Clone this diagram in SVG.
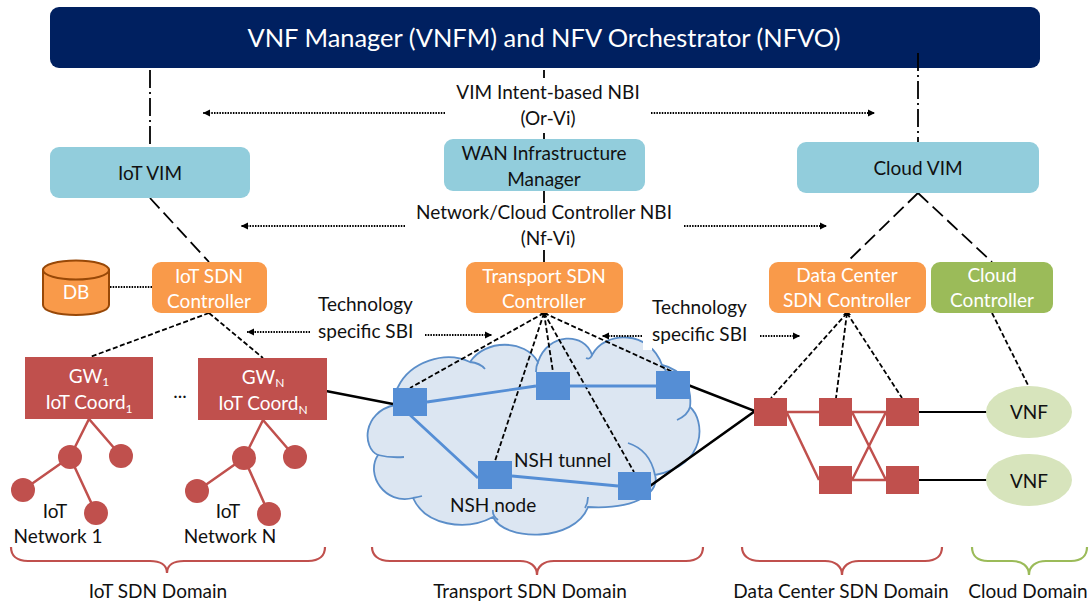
<svg xmlns="http://www.w3.org/2000/svg" width="1092" height="603" viewBox="0 0 1092 603">
<style>
text{font-family:"Lato","Carlito","Open Sans",sans-serif;font-size:19px;fill:#111;text-anchor:middle}
.w{fill:#fff}
.s{text-anchor:start}
.vim{fill:#92cddc}
.org{fill:#f99a4a}
.red{fill:#c0504d}
.blu{fill:#558ed5}
.tree{stroke:#c0504d;stroke-width:2.5;fill:none}
.bl{stroke:#558ed5;stroke-width:2.8;fill:none}
.k{stroke:#000;stroke-width:2.5;fill:none}
.kt{stroke:#000;stroke-width:1.8;fill:none}
.dd{stroke:#000;stroke-width:1.8;fill:none;stroke-dasharray:18 4 2 4}
.da{stroke:#000;stroke-width:1.8;fill:none;stroke-dasharray:14 6}
.ds{stroke:#000;stroke-width:1.8;fill:none;stroke-dasharray:5 2.5}
.dt{stroke:#000;stroke-width:1.8;fill:none;stroke-dasharray:1.5 1.2}
.br{fill:none;stroke-width:2.2}
.sb{font-size:12px}
</style>
<defs>
<marker id="ah" markerUnits="userSpaceOnUse" markerWidth="8" markerHeight="8" refX="7" refY="4" orient="auto"><path d="M0,0.5L7,4L0,7.5z" fill="#000"/></marker>
</defs>

<g id="cloud">
<path d="M378,455C362,448 362,412 395,405C392,395 398,387 398,387C410,362 445,350 470,362C485,339 525,339 538,362C548,332 585,332 592,355C605,330 650,330 662,365C685,370 692,390 690,407C705,420 708,465 655,475C660,490 640,510 588,507C575,542 505,542 493,517C465,532 425,525 413,498C385,505 365,475 378,455Z" fill="#dce6f2" stroke="#5b8ec9" stroke-width="1.8"/>
<path d="M470,362Q480,363 485,369M538,362Q536,366 536,372M592,355Q590,360 586,358M662,365Q664,368 666,371M690,407Q688,415 677,420M628,443Q650,450 655,475M588,497Q588,503 585,508M493,510Q492,515 498,520M413,498Q418,497 422,496M378,455Q390,458 404,457" fill="none" stroke="#5b8ec9" stroke-width="1.8"/>
<rect x="643" y="341" width="9" height="9" fill="#fff"/>
</g>

<g id="connectors">
<path class="dd" d="M150,70V147M544,70V78M544,133V139M544,191V203M544,250V262M918,53V142"/>
<path class="da" d="M150,198L209,262M918,193L847,262M918,193L992,262"/>
<path class="ds" d="M209,313L90,357M209,313L263,358M544,313L410,388M544,313L495,461M544,313L553,372M544,313L634,472M544,313L673,372M847,313L771,398M847,313L836,398M847,313L902,398M992,313L1029,387"/>
<path d="M544,310l4,4h-8zM847,310l4,5h-8z"/>
<path class="dt" d="M110,287H152"/>
<path class="dt" d="M445,113H203" marker-end="url(#ah)"/>
<path class="dt" d="M651,113H875" marker-end="url(#ah)"/>
<path class="dt" d="M405,226H241" marker-end="url(#ah)"/>
<path class="dt" d="M684,226H827" marker-end="url(#ah)"/>
<path class="dt" d="M310,332H247" marker-end="url(#ah)"/>
<path class="dt" d="M425,335H492" marker-end="url(#ah)"/>
<path class="dt" d="M642,336H602" marker-end="url(#ah)"/>
<path class="dt" d="M760,336H800" marker-end="url(#ah)"/>
<path class="bl" d="M427,402L536,386M570,386H656M410,415L478,478M512,476L618,486"/>
<path class="k" d="M326,391L393,404M688,385L755,411L650,486"/>
<path class="kt" d="M919,412H987M919,480H987"/>
<path class="tree" d="M787,412H886M787,413L819,480M852,412L886,480M852,480L886,412M852,480H886"/>
<path class="tree" d="M70,457L89,419L121,456M70,457L23,490M70,457L96,513M244,458L263,420L295,457M244,458L197,491M244,458L269,514"/>
</g>

<g id="orchestrator"><rect x="50" y="7" width="990" height="61" rx="9" fill="#002060"/><text class="w" x="544" y="47" style="font-size:25px" textLength="593" lengthAdjust="spacingAndGlyphs">VNF Manager (VNFM) and NFV Orchestrator (NFVO)</text></g>
<path d="M918,53V68" class="dd"/>
<g id="iot-vim"><rect class="vim" x="50" y="147" width="200" height="51" rx="9"/><text x="150" y="180">IoT VIM</text></g>
<g id="wan"><rect class="vim" x="444" y="139" width="201" height="52" rx="9"/><text x="544" y="160">WAN Infrastructure</text><text x="544" y="186">Manager</text></g>
<g id="cloud-vim"><rect class="vim" x="797" y="142" width="242" height="51" rx="9"/><text x="918" y="175">Cloud VIM</text></g>
<g id="db"><path d="M43,270V305C43,311 58,315 76,315S109,311 109,305V270Z" class="org" stroke="#984807" stroke-width="2"/><ellipse cx="76" cy="270" rx="33" ry="9.5" class="org" stroke="#984807" stroke-width="2"/><text class="w" x="76" y="299">DB</text></g>
<g id="iot-ctl"><rect class="org" x="152" y="262" width="115" height="51" rx="9"/><text class="w" x="209" y="283">IoT SDN</text><text class="w" x="209" y="308">Controller</text></g>
<g id="transport-ctl"><rect class="org" x="466" y="262" width="157" height="51" rx="9"/><text class="w" x="544" y="283">Transport SDN</text><text class="w" x="544" y="308">Controller</text></g>
<g id="dc-ctl"><rect class="org" x="769" y="262" width="157" height="51" rx="9"/><text class="w" x="847" y="282">Data Center</text><text class="w" x="847" y="307">SDN Controller</text></g>
<g id="cloud-ctl"><rect x="931" y="262" width="122" height="51" rx="9" fill="#9bbb59"/><text class="w" x="992" y="282">Cloud</text><text class="w" x="992" y="307">Controller</text></g>
<g id="gw1"><rect class="red" x="25" y="357" width="128" height="62"/><text class="w" x="89" y="383">GW<tspan dy="3" class="sb w">1</tspan></text><text class="w" x="89" y="409">IoT Coord<tspan dy="4" class="sb w">1</tspan></text></g>
<g id="gwn"><rect class="red" x="198" y="358" width="129" height="62"/><text class="w" x="263" y="384">GW<tspan dy="3" class="sb w">N</tspan></text><text class="w" x="263" y="410">IoT Coord<tspan dy="4" class="sb w">N</tspan></text></g>
<text x="180" y="398">...</text>
<g id="iot-net-1" class="red"><circle cx="70" cy="457" r="12"/><circle cx="121" cy="456" r="12"/><circle cx="23" cy="490" r="12"/><circle cx="96" cy="513" r="12"/></g>
<g id="iot-net-n" class="red"><circle cx="244" cy="458" r="12"/><circle cx="295" cy="457" r="12"/><circle cx="197" cy="491" r="12"/><circle cx="269" cy="514" r="12"/></g>
<g id="nsh" class="blu"><rect x="393" y="388" width="34" height="28"/><rect x="536" y="372" width="34" height="28"/><rect x="656" y="371" width="34" height="28"/><rect x="478" y="461" width="34" height="28"/><rect x="618" y="472" width="33" height="28"/></g>
<g id="dc-switches" class="red"><rect x="754" y="398" width="33" height="28"/><rect x="819" y="398" width="33" height="28"/><rect x="886" y="398" width="33" height="28"/><rect x="819" y="466" width="33" height="28"/><rect x="886" y="466" width="33" height="28"/></g>
<g id="vnf1"><ellipse cx="1029" cy="412" rx="43" ry="26" fill="#d7e4bc"/><text x="1029" y="419">VNF</text></g>
<g id="vnf2"><ellipse cx="1029" cy="480" rx="43" ry="26" fill="#d7e4bc"/><text x="1029" y="488">VNF</text></g>

<g id="labels">
<text x="548" y="99">VIM Intent-based NBI</text><text x="548" y="125">(Or-Vi)</text>
<text x="544" y="219">Network/Cloud Controller NBI</text><text x="548" y="245">(Nf-Vi)</text>
<text class="s" x="318" y="311">Technology</text><text class="s" x="318" y="338">specific SBI</text>
<text class="s" x="652" y="314">Technology</text><text class="s" x="652" y="341">specific SBI</text>
<text class="s" x="514" y="467">NSH tunnel</text><text class="s" x="450" y="512">NSH node</text>
<text x="55" y="518">IoT</text><text x="58" y="543">Network 1</text>
<text x="228" y="518">IoT</text><text x="230" y="543">Network N</text>
<text x="158" y="598">IoT SDN Domain</text><text x="530" y="598">Transport SDN Domain</text><text x="841" y="598">Data Center SDN Domain</text><text x="1028" y="598">Cloud Domain</text>
</g>
<g id="braces">
<path class="br" stroke="#c0504d" d="M11,547C11,555 16,561 28,561H150C160,561 167,565 167,573C167,565 174,561 184,561H308C320,561 325,555 325,547"/>
<path class="br" stroke="#c0504d" d="M372,547C372,555 378,561 390,561H520C530,561 537,566 537,575C537,566 544,561 554,561H686C698,561 703,555 703,547"/>
<path class="br" stroke="#c0504d" d="M742,547C742,555 748,561 760,561H825C835,561 842,566 842,575C842,566 849,561 859,561H925C937,561 942,555 942,547"/>
<path class="br" stroke="#9bbb59" d="M972,547C972,555 977,561 988,561H1012C1022,561 1029,566 1029,575C1029,566 1036,561 1046,561H1071C1082,561 1087,555 1087,547"/>
</g>
</svg>
